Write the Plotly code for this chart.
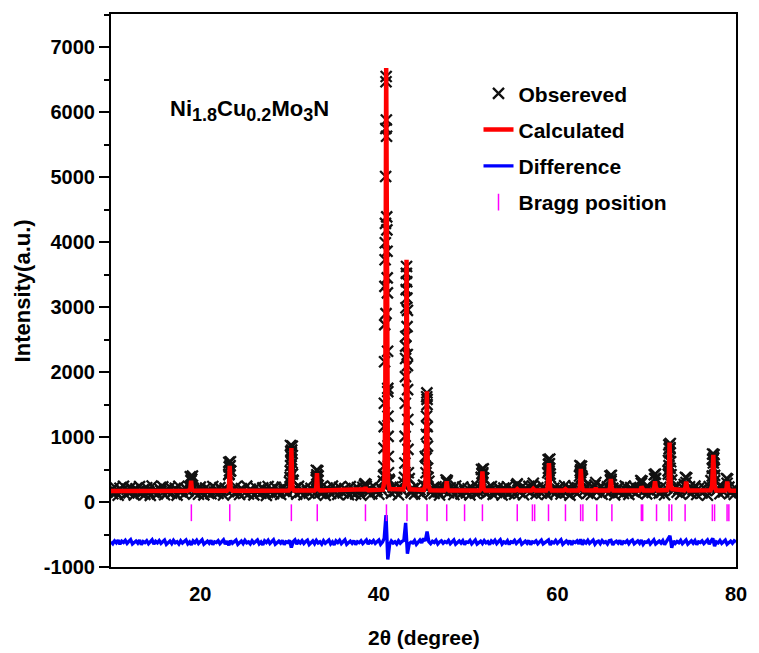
import numpy as np
import plotly.graph_objects as go

# ---------------- data ----------------
# common 2-theta grid for the background part of the observed scan and the difference curve
grid_start, grid_step, grid_n = 10.0, 0.2, 351

obs_bg = [
    182, 128, 231, 150, 104, 212, 169, 243, 119, 197,
    141, 226, 173, 108, 205, 156, 238, 131, 189, 117,
    219, 162, 102, 247, 146, 184, 125, 209, 171, 234,
    113, 193, 152, 228, 137, 176, 211, 106, 242, 158,
    186, 122, 203, 167, 232, 380, 214, 139, 198, 120,
    229, 163, 111, 217, 148, 190, 127, 240, 155, 201,
    134, 222, 178, 109, 213, 172, 420, 480, 191, 133,
    236, 159, 116, 207, 181, 142, 245, 124, 196, 165,
    110, 224, 151, 188, 135, 218, 170, 103, 239, 157,
    200, 129, 227, 146, 183, 118, 230, 164, 195, 140,
    310, 760, 330, 206, 121, 241, 153, 187, 112, 220,
    168, 137, 210, 179, 126, 380, 400, 144, 233, 160,
    105, 216, 185, 131, 244, 154, 199, 117, 225, 166,
    139, 208, 176, 114, 237, 149, 192, 123, 221, 171,
    107, 228, 260, 240, 147, 203, 128, 242, 162, 185,
    119, 215, 174, 420, 2900, 1750, 330, 138, 230, 163,
    198, 112, 226, 180, 300, 2400, 2950, 360, 145, 207,
    126, 239, 168, 189, 120, 260, 700, 1580, 320, 150,
    211, 133, 236, 161, 108, 194, 227, 172, 300, 143,
    219, 181, 115, 246, 157, 190, 125, 232, 169, 140,
    204, 111, 223, 178, 136, 243, 152, 197, 430, 186,
    130, 213, 165, 240, 118, 188, 149, 228, 174, 109,
    217, 160, 235, 132, 195, 171, 121, 260, 184, 146,
    229, 113, 206, 177, 241, 155, 250, 201, 127, 220,
    166, 135, 237, 183, 117, 520, 380, 158, 212, 141,
    194, 231, 124, 176, 250, 148, 218, 106, 189, 244,
    161, 129, 209, 450, 360, 175, 238, 137, 199, 116,
    225, 260, 152, 186, 242, 120, 204, 168, 233, 144,
    320, 213, 110, 180, 227, 154, 196, 131, 245, 163,
    118, 221, 172, 239, 140, 207, 185, 290, 159, 216,
    126, 234, 178, 147, 203, 360, 190, 138, 228, 170,
    112, 215, 480, 820, 340, 184, 240, 150, 199, 122,
    226, 270, 300, 167, 235, 134, 192, 246, 115, 208,
    173, 139, 221, 187, 104, 238, 330, 650, 330, 179,
    211, 128, 243, 156, 197, 290, 230, 145, 188, 117,
    205,
]

diff_y = [
    -612, -641, -598, -627, -586, -650, -603, -622, -591, -638,
    -607, -579, -645, -616, -600, -633, -588, -657, -609, -624,
    -595, -640, -613, -582, -648, -605, -628, -593, -636, -610,
    -585, -652, -619, -601, -639, -590, -626, -611, -646, -597,
    -632, -606, -584, -644, -615, -660, -599, -625, -589, -637,
    -608, -580, -649, -617, -602, -634, -592, -655, -612, -623,
    -596, -642, -611, -583, -647, -604, -665, -594, -635, -609,
    -587, -651, -620, -600, -640, -591, -627, -613, -645, -598,
    -633, -605, -585, -643, -616, -659, -597, -624, -590, -638,
    -606, -581, -650, -618, -603, -632, -593, -654, -611, -622,
    -590, -700, -610, -584, -646, -603, -629, -594, -637, -608,
    -588, -653, -617, -600, -641, -592, -630, -612, -647, -596,
    -634, -604, -586, -644, -614, -658, -598, -623, -589, -639,
    -607, -582, -651, -619, -601, -633, -594, -656, -610, -625,
    -597, -640, -612, -585, -648, -605, -626, -593, -636, -611,
    -586, -650, -618, -560, -200, -885, -655, -600, -630, -612,
    -645, -598, -633, -606, -590, -320, -795, -640, -617, -628,
    -593, -652, -611, -587, -630, -560, -600, -455, -612, -640,
    -604, -622, -589, -646, -615, -598, -635, -608, -625, -592,
    -641, -603, -584, -649, -616, -600, -632, -595, -654, -613,
    -621, -591, -643, -607, -586, -647, -618, -601, -637, -594,
    -628, -610, -655, -599, -624, -589, -639, -605, -582, -646,
    -615, -631, -596, -652, -611, -622, -590, -638, -604, -583,
    -649, -617, -602, -634, -593, -656, -612, -623, -597, -641,
    -608, -586, -645, -619, -603, -585, -660, -614, -627, -592,
    -636, -606, -581, -650, -616, -600, -633, -594, -657, -611,
    -624, -598, -642, -575, -655, -604, -629, -591, -637, -609,
    -586, -648, -613, -601, -640, -595, -626, -610, -646, -597,
    -590, -658, -618, -603, -632, -592, -653, -612, -622, -596,
    -641, -605, -585, -644, -615, -600, -634, -588, -651, -614,
    -620, -593, -647, -606, -583, -645, -617, -602, -631, -594,
    -655, -611, -580, -520, -705, -599, -636, -608, -625, -590,
    -642, -604, -586, -649, -616, -598, -633, -595, -656, -612,
    -623, -597, -640, -611, -584, -646, -605, -560, -680, -614,
    -629, -592, -637, -607, -587, -650, -618, -601, -634, -596,
    -615,
]

# observed points on the peak flanks
obs_peak_x = [
    18.88, 19.12, 18.96, 19.04,
    23.20, 23.38, 23.24, 23.34, 23.28, 23.22,
    30.10, 30.30, 30.14, 30.24, 30.18, 30.22, 30.12, 30.28, 30.08, 30.32, 30.06, 30.34,
    33.00, 33.16, 33.06, 33.12, 33.02, 33.18,
    38.44, 38.56,
    40.82, 40.80, 40.84, 40.78, 40.86, 40.76, 40.88, 40.74, 40.90, 40.72, 40.92, 40.70,
    40.94, 40.68, 40.96, 40.66, 40.98, 40.64, 41.00, 40.62, 41.02, 40.60, 41.04, 40.58,
    41.06, 40.56, 41.08, 40.54, 41.12, 40.50,
    43.10, 43.08, 43.12, 43.06, 43.14, 43.04, 43.16, 43.02, 43.18, 43.00, 43.20, 42.98,
    43.22, 42.96, 43.24, 42.94, 43.26, 42.92, 43.30, 42.88,
    45.38, 45.36, 45.40, 45.34, 45.42, 45.32, 45.44, 45.30, 45.46, 45.28, 45.50,
    47.52, 47.66,
    51.50, 51.70, 51.56, 51.64, 51.46, 51.74,
    55.50, 57.30,
    58.96, 59.14, 59.00, 59.10, 59.04, 58.92, 59.18, 59.06,
    62.52, 62.70, 62.56, 62.64, 62.48, 62.74,
    64.30,
    65.88, 66.04, 65.94, 66.00,
    69.34, 69.48,
    70.84, 70.98, 70.90,
    72.48, 72.64, 72.52, 72.60, 72.56, 72.44, 72.68, 72.50, 72.62, 72.42, 72.72,
    74.34, 74.48,
    77.38, 77.54, 77.42, 77.50, 77.46, 77.36, 77.58, 77.34, 77.60,
    78.94, 79.06,
]
obs_peak_y = [
    390, 400, 330, 350,
    610, 620, 540, 560, 480, 430,
    870, 860, 780, 800, 700, 650, 560, 600, 480, 430, 380, 340,
    490, 480, 420, 400, 340, 330,
    280, 270,
    6550, 6470, 5880, 5750, 5630, 5010, 4390, 4290, 4190, 3990, 3860, 3730,
    3450, 3320, 3220, 2730, 2320, 2160, 1700, 1520, 1320, 1160, 1010, 830,
    700, 550, 450, 400, 350, 320,
    3625, 3520, 3390, 3270, 3140, 2990, 2700, 2550, 2270, 2210, 2100, 1930,
    1730, 1520, 1270, 1010, 810, 600, 450, 380,
    1680, 1620, 1500, 1320, 1160, 1040, 860, 680, 520, 450, 380,
    340, 330,
    500, 510, 440, 450, 380, 370,
    280, 290,
    650, 660, 580, 590, 520, 450, 430, 480,
    560, 550, 480, 500, 400, 390,
    300,
    400, 410, 340, 350,
    330, 320,
    420, 430, 360,
    880, 900, 820, 840, 760, 640, 620, 560, 520, 430, 420,
    380, 370,
    740, 730, 660, 680, 600, 520, 510, 400, 410,
    360, 350,
]

# calculated profile (vertices of the refined curve)
calc_x = [
    10.0, 18.6, 18.88, 18.97, 19.06, 19.3,
    23.0, 23.2, 23.3, 23.4, 23.6,
    29.9, 30.08, 30.2, 30.32, 30.5,
    32.8, 32.98, 33.07, 33.16, 33.4,
    38.2, 38.4, 38.5, 38.6, 38.8,
    40.45, 40.62, 40.72, 40.82, 40.92, 41.02, 41.2,
    42.75, 42.92, 43.01, 43.1, 43.19, 43.28, 43.45,
    45.05, 45.22, 45.3, 45.38, 45.46, 45.54, 45.75,
    47.35, 47.5, 47.6, 47.7, 47.85,
    51.3, 51.48, 51.6, 51.72, 51.9,
    55.3, 55.5, 55.7,
    57.1, 57.3, 57.5,
    58.75, 58.92, 59.05, 59.18, 59.35,
    60.7, 60.9, 61.1,
    62.35, 62.52, 62.62, 62.74, 62.9,
    64.15, 64.3, 64.45,
    65.75, 65.9, 65.98, 66.08, 66.25,
    69.2, 69.35, 69.42, 69.5, 69.65,
    70.7, 70.85, 70.93, 71.02, 71.2,
    72.3, 72.45, 72.56, 72.68, 72.85,
    74.2, 74.33, 74.42, 74.52, 74.7,
    77.15, 77.33, 77.46, 77.59, 77.78,
    78.8, 78.93, 79.02, 79.12, 79.3,
    80.0,
]
calc_y = [
    170, 172, 190, 328, 190, 172,
    174, 200, 558, 200, 175,
    176, 210, 830, 210, 178,
    178, 200, 446, 200, 178,
    180, 195, 222, 195, 182,
    190, 320, 1500, 6680, 1500, 320, 200,
    195, 300, 1100, 3730, 1100, 300, 195,
    185, 260, 700, 1705, 700, 260, 182,
    178, 200, 318, 200, 178,
    176, 210, 470, 210, 176,
    176, 200, 176,
    176, 205, 177,
    178, 220, 600, 220, 178,
    178, 200, 178,
    178, 220, 510, 230, 180,
    178, 215, 178,
    178, 220, 354, 220, 178,
    178, 200, 240, 200, 178,
    178, 230, 320, 230, 180,
    185, 260, 917, 260, 200,
    180, 220, 317, 220, 178,
    180, 250, 728, 250, 178,
    176, 210, 317, 210, 176,
    174,
]

bragg_pos = [19.0, 23.3, 30.2, 33.1, 38.5, 40.85, 43.15, 45.4, 47.6, 49.6, 51.6,
             55.5, 57.2, 57.45, 59.0, 60.9, 62.6, 62.85, 64.4, 66.1, 69.4, 69.55,
             71.1, 72.5, 72.8, 74.3, 77.35, 77.6, 79.0, 79.2]
bragg_level = -165

y_ticks = [-1000, 0, 1000, 2000, 3000, 4000, 5000, 6000, 7000]
x_ticks = [20, 40, 60, 80]

# ---------------- figure ----------------
grid_x = np.round(grid_start + grid_step * np.arange(grid_n), 2)
obs_x = list(grid_x) + obs_peak_x
obs_y = obs_bg + obs_peak_y

FONT = "Liberation Sans, Arial, sans-serif"

fig = go.Figure()
fig.add_trace(go.Scatter(
    x=obs_x, y=obs_y, mode="markers", name="Obsereved",
    marker=dict(symbol="x-thin", size=11, color="#111111",
                line=dict(width=2.3, color="#111111")),
    legendgroup="a",
))
fig.add_trace(go.Scatter(
    x=calc_x, y=calc_y, mode="lines", name="Calculated",
    line=dict(color="#ff0000", width=4.5), legendgroup="b",
))
fig.add_trace(go.Scatter(
    x=grid_x, y=diff_y, mode="lines", name="Difference",
    line=dict(color="#0000ff", width=3.4), legendgroup="c",
))
fig.add_trace(go.Scatter(
    x=bragg_pos, y=[bragg_level] * len(bragg_pos), mode="markers", name="Bragg position",
    marker=dict(symbol="line-ns", size=12, color="#ff00ff",
                line=dict(width=1.5, color="#ff00ff")),
    legendgroup="d",
))

SUB = '<sub><span style="font-size:18px">{}</span></sub>'
formula = "Ni" + SUB.format("1.8") + "Cu" + SUB.format("0.2") + "Mo" + SUB.format("3") + "N"

fig.update_layout(
    width=759, height=653,
    margin=dict(l=111, r=15, t=14, b=86),
    paper_bgcolor="white", plot_bgcolor="white",
    font=dict(family=FONT, size=20, color="black", weight="bold"),
    showlegend=True,
    legend=dict(
        x=0.588, y=0.893, xanchor="left", yanchor="top",
        bgcolor="rgba(0,0,0,0)", borderwidth=0,
        font=dict(family=FONT, size=21, color="black", weight="bold"),
        traceorder="grouped", tracegroupgap=6, itemwidth=30,
    ),
    xaxis=dict(
        range=[10, 80], tickvals=x_ticks, ticktext=[str(v) for v in x_ticks],
        ticks="", showgrid=False, zeroline=False,
        showline=True, linecolor="black", linewidth=2, mirror=True,
        tickfont=dict(family=FONT, size=20, color="black", weight="bold"),
        ticklabelstandoff=8,
    ),
    yaxis=dict(
        range=[-1000, 7512], tickvals=y_ticks, ticktext=[str(v) for v in y_ticks],
        ticks="outside", ticklen=10, tickwidth=2, tickcolor="black",
        minor=dict(dtick=500, tick0=0, ticks="outside", ticklen=5, tickwidth=2, tickcolor="black"),
        showgrid=False, zeroline=False,
        showline=True, linecolor="black", linewidth=2, mirror=True,
        tickfont=dict(family=FONT, size=20, color="black", weight="bold"),
    ),
    annotations=[
        dict(text=formula,
             xref="paper", yref="paper", x=0.091, y=0.826, xanchor="left", yanchor="middle",
             showarrow=False, font=dict(family=FONT, size=22, color="black", weight="bold")),
        dict(text="Intensity(a.u.)", textangle=-90,
             xref="paper", yref="paper", x=-0.141, y=0.5, xanchor="center", yanchor="middle",
             showarrow=False, font=dict(family=FONT, size=22, color="black", weight="bold")),
        dict(text="2θ (degree)",
             xref="paper", yref="paper", x=0.5, y=-0.127, xanchor="center", yanchor="middle",
             showarrow=False, font=dict(family=FONT, size=21, color="black", weight="bold")),
    ],
)

fig.write_html("out.html")
